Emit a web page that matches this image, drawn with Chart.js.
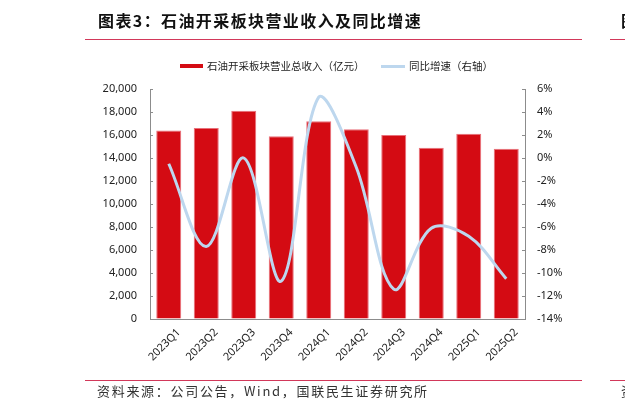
<!DOCTYPE html>
<html>
<head>
<meta charset="utf-8">
<script src="https://cdn.jsdelivr.net/npm/chart.js@4.4.1/dist/chart.umd.min.js"></script>
<style>
  html, body { margin: 0; padding: 0; background: #fff; }
  body { width: 625px; height: 409px; position: relative; overflow: hidden; font-family: "Noto Sans CJK SC", "Noto Sans", sans-serif; }
  #wrap { position: absolute; left: 0; top: 0; width: 625px; height: 409px; }
  .title { position: absolute; top: 10px; left: 98px; font-size: 16px; line-height: 20px; font-weight: 700; letter-spacing: 1.4px; color: #111; white-space: nowrap; }
  .rule { position: absolute; height: 1px; background: #d2385a; }
  .source { position: absolute; top: 382px; left: 97px; font-size: 13px; line-height: 18px; letter-spacing: 1.7px; color: #333; white-space: nowrap; }
  .legend { position: absolute; top: 58px; font-size: 10.5px; line-height: 16px; color: #222; white-space: nowrap; }
  .sw { position: absolute; }
</style>
</head>
<body>
<div id="wrap"><canvas id="chart" width="625" height="409"></canvas></div>

<div class="title">图表3：石油开采板块营业收入及同比增速</div>
<div class="title" style="left:621px">图</div>
<div class="rule" style="left:85px; width:497px; top:39px"></div>
<div class="rule" style="left:610px; width:15px; top:39px"></div>

<div class="sw" style="left:180px; top:64px; width:23px; height:4px; background:#d40b13"></div>
<div class="legend" style="left:207px">石油开采板块营业总收入（亿元）</div>
<div class="sw" style="left:381px; top:65px; width:24px; height:3px; background:#bdd7ee"></div>
<div class="legend" style="left:409px">同比增速（右轴）</div>

<div class="rule" style="left:85px; width:497px; top:380px"></div>
<div class="rule" style="left:610px; width:15px; top:380px"></div>
<div class="source">资料来源：公司公告，Wind，国联民生证券研究所</div>
<div class="source" style="left:621px">资</div>

<script>
// quarters on the x axis
var quarters = ['2023Q1', '2023Q2', '2023Q3', '2023Q4', '2024Q1', '2024Q2', '2024Q3', '2024Q4', '2025Q1', '2025Q2'];

// revenue, 亿元 (left axis)
var revenue = [16400, 16600, 18100, 15900, 17200, 16500, 16000, 14900, 16100, 14800];

// yoy growth, % (right axis)
var yoyGrowth = [-0.5, -7.7, 0.0, -10.7, 5.3, -0.8, -11.4, -6.1, -6.8, -10.5];

var revenueLabel = '石油开采板块营业总收入（亿元）';
var growthLabel = '同比增速（右轴）';

var axisColor = '#8c8c8c';
var tickFont = { family: '"Noto Sans", "Noto Sans CJK SC", sans-serif', size: 11 };

new Chart(document.getElementById('chart'), {
	data: {
		labels: quarters,
		datasets: [
			{
				type: 'bar',
				label: revenueLabel,
				data: revenue,
				yAxisID: 'y',
				backgroundColor: '#d40b13',
				borderColor: '#e8707a',
				borderWidth: 1,
				barPercentage: 0.667,
				categoryPercentage: 1,
				order: 2
			},
			{
				type: 'line',
				label: growthLabel,
				data: yoyGrowth,
				yAxisID: 'y1',
				borderColor: '#bdd7ee',
				borderWidth: 3,
				pointRadius: 0,
				tension: 0.35,
				fill: false,
				order: 1
			}
		]
	},
	options: {
		responsive: false,
		animation: false,
		devicePixelRatio: 1,
		layout: { padding: { top: 89, left: 0, right: 0, bottom: 40 } },
		plugins: {
			legend: { display: false },
			tooltip: { enabled: false }
		},
		scales: {
			x: {
				grid: { drawOnChartArea: false, drawTicks: false },
				border: { color: axisColor, width: 1 },
				ticks: {
					font: tickFont,
					color: '#222',
					minRotation: 45,
					maxRotation: 45,
					autoSkip: false,
					padding: 7,
					labelOffset: 10
				},
				afterFit: function (s) { s.height = 50; }
			},
			y: {
				position: 'left',
				min: 0,
				max: 20000,
				grid: { drawOnChartArea: false, drawTicks: true, tickLength: -3, color: axisColor },
				border: { color: axisColor, width: 1 },
				ticks: {
					stepSize: 2000,
					font: tickFont,
					color: '#222',
					padding: 16,
					callback: function (v) { return v.toLocaleString('en-US'); }
				},
				afterFit: function (s) { s.width = 150; }
			},
			y1: {
				position: 'right',
				min: -14,
				max: 6,
				grid: { drawOnChartArea: false, drawTicks: true, tickLength: -3, color: axisColor },
				border: { color: axisColor, width: 1 },
				ticks: {
					stepSize: 2,
					font: tickFont,
					color: '#222',
					padding: 15,
					callback: function (v) { return v + '%'; }
				},
				afterFit: function (s) { s.width = 100; }
			}
		}
	}
});
</script>
</body>
</html>
